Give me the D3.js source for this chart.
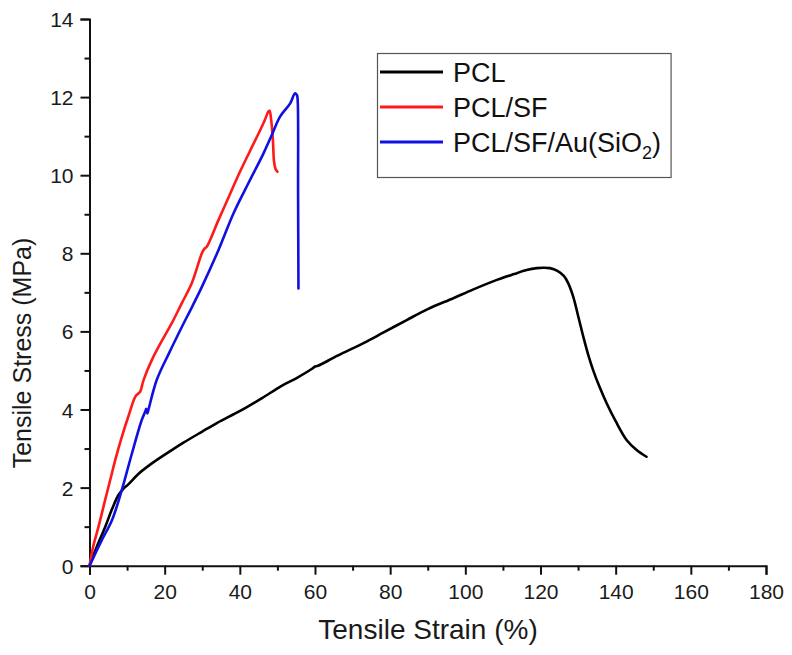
<!DOCTYPE html>
<html>
<head>
<meta charset="utf-8">
<script src="https://cdn.jsdelivr.net/npm/d3@7"></script>
<style>
  html, body { margin: 0; padding: 0; background: #fff; }
  svg { display: block; font-family: "Liberation Sans", Arial, sans-serif; }
</style>
</head>
<body>
<svg id="chart" width="792" height="655"></svg>
<script>
// ---- data ----
const seriesNames = ["PCL", "PCL/SF", "PCL/SF/Au(SiO2)"];
const seriesColors = ["#000000", "#ff1a1a", "#1010e0"];

const pclStrain = [0, 2, 4.2, 6, 7.7, 9, 10.4, 13, 16.6, 21.9, 25, 29.9, 34, 38.8, 42, 45.9, 51, 55, 59.3, 60, 60.8, 66, 72.9, 78, 84.4, 90, 96.8, 102, 108.4, 113, 116.3, 119, 120.7, 122.5, 124.5, 126.2, 127.3, 128.7, 130, 131.4, 132.7, 134, 135.7, 137.6, 140, 142.9, 145.5, 148.2];
const pclStress = [0, 0.5, 1.0, 1.45, 1.81, 1.97, 2.09, 2.35, 2.62, 2.96, 3.15, 3.43, 3.66, 3.9, 4.07, 4.29, 4.6, 4.8, 5.05, 5.1, 5.12, 5.38, 5.7, 5.96, 6.29, 6.57, 6.85, 7.07, 7.32, 7.47, 7.57, 7.62, 7.63, 7.62, 7.55, 7.42, 7.25, 6.89, 6.4, 5.86, 5.4, 5.01, 4.58, 4.16, 3.7, 3.22, 2.97, 2.79];

const sfStrain = [0, 1, 2.4, 4, 5.5, 7, 8.6, 10.4, 12.2, 13.0, 13.5, 14.4, 16.6, 19.2, 21.9, 24.6, 27.2, 29.9, 30.6, 31.2, 34.3, 37.4, 40, 42.7, 45.4, 46.6, 47.6, 47.9, 48.3, 48.8, 49.1, 49.5, 50.0];
const sfStress = [0, 0.5, 1.0, 1.62, 2.19, 2.76, 3.3, 3.84, 4.33, 4.41, 4.46, 4.76, 5.27, 5.75, 6.21, 6.73, 7.23, 8.0, 8.12, 8.17, 8.85, 9.52, 10.08, 10.62, 11.15, 11.4, 11.63, 11.65, 11.45, 10.9, 10.35, 10.16, 10.09];

const auStrain = [0, 1.5, 3.3, 6.0, 8.6, 11.3, 13.9, 14.8, 15.1, 15.4, 15.7, 17.9, 21.2, 24.6, 27.3, 29.9, 34.3, 38.3, 42.3, 46.3, 48.6, 50.7, 53.4, 54.7, 55.2, 55.4, 55.5, 55.6];
const auStress = [0, 0.3, 0.66, 1.17, 1.94, 2.88, 3.73, 3.94, 4.02, 3.9, 4.0, 4.76, 5.45, 6.12, 6.63, 7.14, 8.08, 9.02, 9.8, 10.56, 11.05, 11.5, 11.84, 12.1, 12.05, 11.9, 9.5, 7.1];

const xTicks = [0, 20, 40, 60, 80, 100, 120, 140, 160, 180];
const yTicks = [0, 2, 4, 6, 8, 10, 12, 14];
const xMinor = [10, 30, 50, 70, 90, 110, 130, 150, 170];
const yMinor = [1, 3, 5, 7, 9, 11, 13];
const xTitle = "Tensile Strain (%)";
const yTitle = "Tensile Stress (MPa)";

// ---- layout ----
const svg = d3.select("#chart");
const x = d3.scaleLinear().domain([0, 180]).range([89.5, 766]);
const y = d3.scaleLinear().domain([0, 14]).range([565.7, 19]);

const zip = (a, b) => a.map((v, i) => [v, b[i]]);
const series = [
  zip(pclStrain, pclStress),
  zip(sfStrain, sfStress),
  zip(auStrain, auStress)
];

// axes
const gx = svg.append("g").attr("transform", `translate(0,${y(0)})`);
gx.call(d3.axisBottom(x).tickValues(xTicks).tickSize(9).tickPadding(9).tickFormat(d3.format("d")));
const gxm = svg.append("g").attr("transform", `translate(0,${y(0)})`);
gxm.call(d3.axisBottom(x).tickValues(xMinor).tickSize(5).tickFormat(""));

const gy = svg.append("g").attr("transform", `translate(${x(0)},0)`);
gy.call(d3.axisLeft(y).tickValues(yTicks).tickSize(9).tickPadding(7).tickFormat(d3.format("d")));
const gym = svg.append("g").attr("transform", `translate(${x(0)},0)`);
gym.call(d3.axisLeft(y).tickValues(yMinor).tickSize(5).tickFormat(""));

svg.selectAll(".domain").attr("stroke", "#111").attr("stroke-width", 2);
gxm.select(".domain").remove();
gym.select(".domain").remove();
svg.selectAll(".tick line").attr("stroke", "#111").attr("stroke-width", 2);
svg.selectAll(".tick text")
  .attr("fill", "#1a1a1a")
  .style("font-size", "21px")
  .style("font-family", "'Liberation Sans', Arial, sans-serif");
gx.selectAll(".tick text").attr("dy", "0.71em");
gy.selectAll(".tick text").attr("dy", "0.36em");

// axis titles
svg.append("text")
  .attr("x", 428).attr("y", 639)
  .attr("text-anchor", "middle")
  .attr("fill", "#1a1a1a")
  .style("font-size", "28px")
  .text(xTitle);

svg.append("text")
  .attr("transform", "translate(31,353) rotate(-90)")
  .attr("text-anchor", "middle")
  .attr("fill", "#1a1a1a")
  .style("font-size", "25px")
  .text(yTitle);

// lines
const line = d3.line().x(d => x(d[0])).y(d => y(d[1])).curve(d3.curveCatmullRom.alpha(0.5));
svg.append("g").selectAll("path")
  .data(series)
  .join("path")
  .attr("d", d => line(d))
  .attr("fill", "none")
  .attr("stroke", (d, i) => seriesColors[i])
  .attr("stroke-width", 2.6)
  .attr("stroke-linejoin", "round")
  .attr("stroke-linecap", "round");

// legend
const lg = svg.append("g");
const box = lg.append("rect")
  .attr("x", 377.5).attr("y", 53.5)
  .attr("height", 124)
  .attr("fill", "#fff")
  .attr("stroke", "#555").attr("stroke-width", 1.2);
const rowY = [72, 107, 142];
let maxRight = 0;
seriesNames.forEach((name, i) => {
  lg.append("line")
    .attr("x1", 380).attr("x2", 443)
    .attr("y1", rowY[i]).attr("y2", rowY[i])
    .attr("stroke", seriesColors[i]).attr("stroke-width", 3);
  const t = lg.append("text")
    .attr("x", 453).attr("y", rowY[i] + 10)
    .attr("fill", "#111")
    .style("font-size", "27px");
  if (name.indexOf("SiO2") >= 0) {
    t.append("tspan").text("PCL/SF/Au(SiO");
    t.append("tspan").attr("dy", 7).style("font-size", "18px").text("2");
    t.append("tspan").attr("dy", -7).text(")");
  } else {
    t.text(name);
  }
  const bb = t.node().getBBox();
  maxRight = Math.max(maxRight, bb.x + bb.width);
});
box.attr("width", maxRight + 10 - 377.5);
</script>
</body>
</html>
